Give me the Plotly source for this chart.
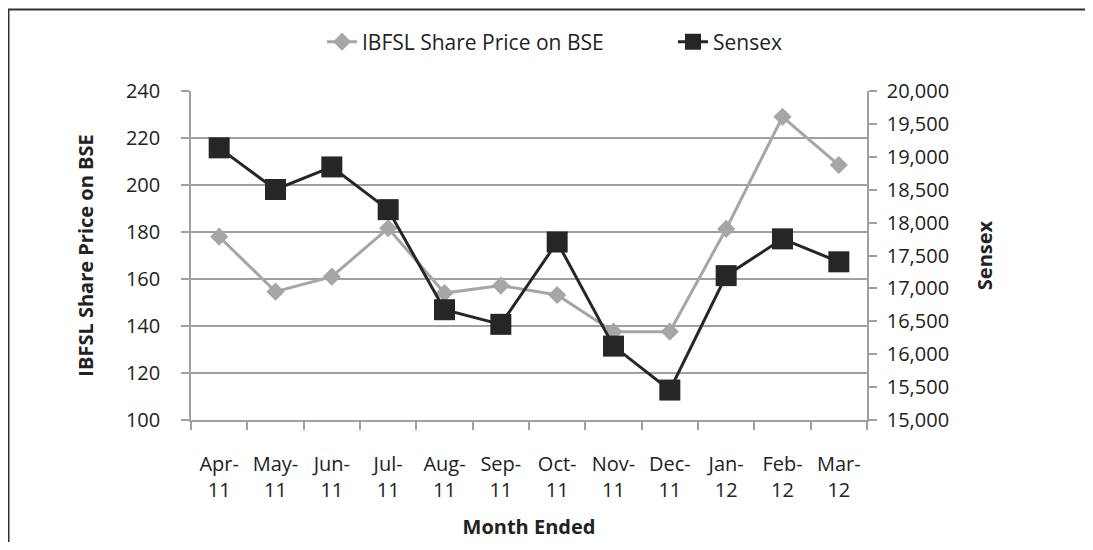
import plotly.graph_objects as go

months = ["Apr-<br>11", "May-<br>11", "Jun-<br>11", "Jul-<br>11", "Aug-<br>11", "Sep-<br>11",
          "Oct-<br>11", "Nov-<br>11", "Dec-<br>11", "Jan-<br>12", "Feb-<br>12", "Mar-<br>12"]
ibfsl_price = [178, 154.6, 161, 181.6, 154, 157.2, 153.2, 137.6, 137.6, 181.3, 229, 208.5]
sensex = [19136, 18503, 18846, 18197, 16676, 16454, 17705, 16123, 15455, 17194, 17753, 17404]

FONT = "Open Sans"
GRAY = "#a6a6a6"
DARK = "#262626"
AXIS = "#a0a0a0"
TXT = "#222222"

# figure sits inside the default 8px body margin; keep it within the window
OFF = 8
W, H = 1093 - 2 * OFF, 550 - 2 * OFF
L, T, PW, PH = 191 - OFF, 91 - OFF, 676, 329


def px_x(page_x):
    return (page_x - OFF - L) / PW


def px_y(page_y):
    return 1 - (page_y - OFF - T) / PH


fig = go.Figure()
fig.add_trace(go.Scatter(
    x=months, y=ibfsl_price, name="IBFSL Share Price on BSE", mode="lines+markers",
    line=dict(color=GRAY, width=3),
    marker=dict(symbol="diamond", size=14, color=GRAY),
    yaxis="y", legend="legend"))
fig.add_trace(go.Scatter(
    x=months, y=sensex, name="Sensex", mode="lines+markers",
    line=dict(color=DARK, width=3),
    marker=dict(symbol="square", size=21, color=DARK),
    yaxis="y2", legend="legend2"))

leg_common = dict(orientation="h", xanchor="left", yanchor="middle", y=px_y(42),
                  font=dict(size=21, color=TXT), bgcolor="rgba(0,0,0,0)")

fig.update_layout(
    width=W, height=H,
    margin=dict(l=L, r=W - L - PW, t=T, b=H - T - PH, autoexpand=False),
    paper_bgcolor="white", plot_bgcolor="white",
    font=dict(family=FONT, size=20, color=TXT),
    showlegend=True,
    legend=dict(x=px_x(322), **leg_common),
    legend2=dict(x=px_x(673), **leg_common),
    xaxis=dict(
        type="category", range=[-0.5, len(months) - 0.5], showgrid=False,
        showline=True, linecolor=AXIS, linewidth=1.5,
        ticks="outside", tickson="boundaries", ticklen=8, tickcolor=AXIS, tickwidth=1.5,
        tickfont=dict(size=20), tickangle=0, ticklabelstandoff=25, automargin=False,
        title=dict(text="<b>Month Ended</b>", font=dict(size=20), standoff=18),
    ),
    yaxis=dict(
        range=[100, 240], dtick=20, showgrid=True, gridcolor=AXIS, gridwidth=1.5,
        showline=True, linecolor=AXIS, linewidth=1.5, zeroline=False,
        ticks="outside", ticklen=8, tickcolor=AXIS, tickwidth=1.5,
        tickfont=dict(size=20), ticklabelstandoff=17, automargin=False,
        title=dict(text="<b>IBFSL Share Price on BSE</b>", font=dict(size=20), standoff=27),
    ),
    yaxis2=dict(
        range=[15000, 20000], dtick=500, tickformat=",", overlaying="y", side="right",
        showgrid=False, showline=True, linecolor=AXIS, linewidth=1.5, zeroline=False,
        ticks="outside", ticklen=8, tickcolor=AXIS, tickwidth=1.5,
        tickfont=dict(size=20), ticklabelstandoff=6, automargin=False,
        title=dict(text="<b>Sensex</b>", font=dict(size=20), standoff=30),
    ),
    shapes=[dict(type="rect", xref="paper", yref="paper",
                 x0=px_x(OFF + 0.5), x1=px_x(1120),
                 y0=px_y(580), y1=px_y(OFF + 1.5),
                 line=dict(color="#333333", width=2), fillcolor="rgba(0,0,0,0)", layer="below")],
)

fig.write_html("out.html")
